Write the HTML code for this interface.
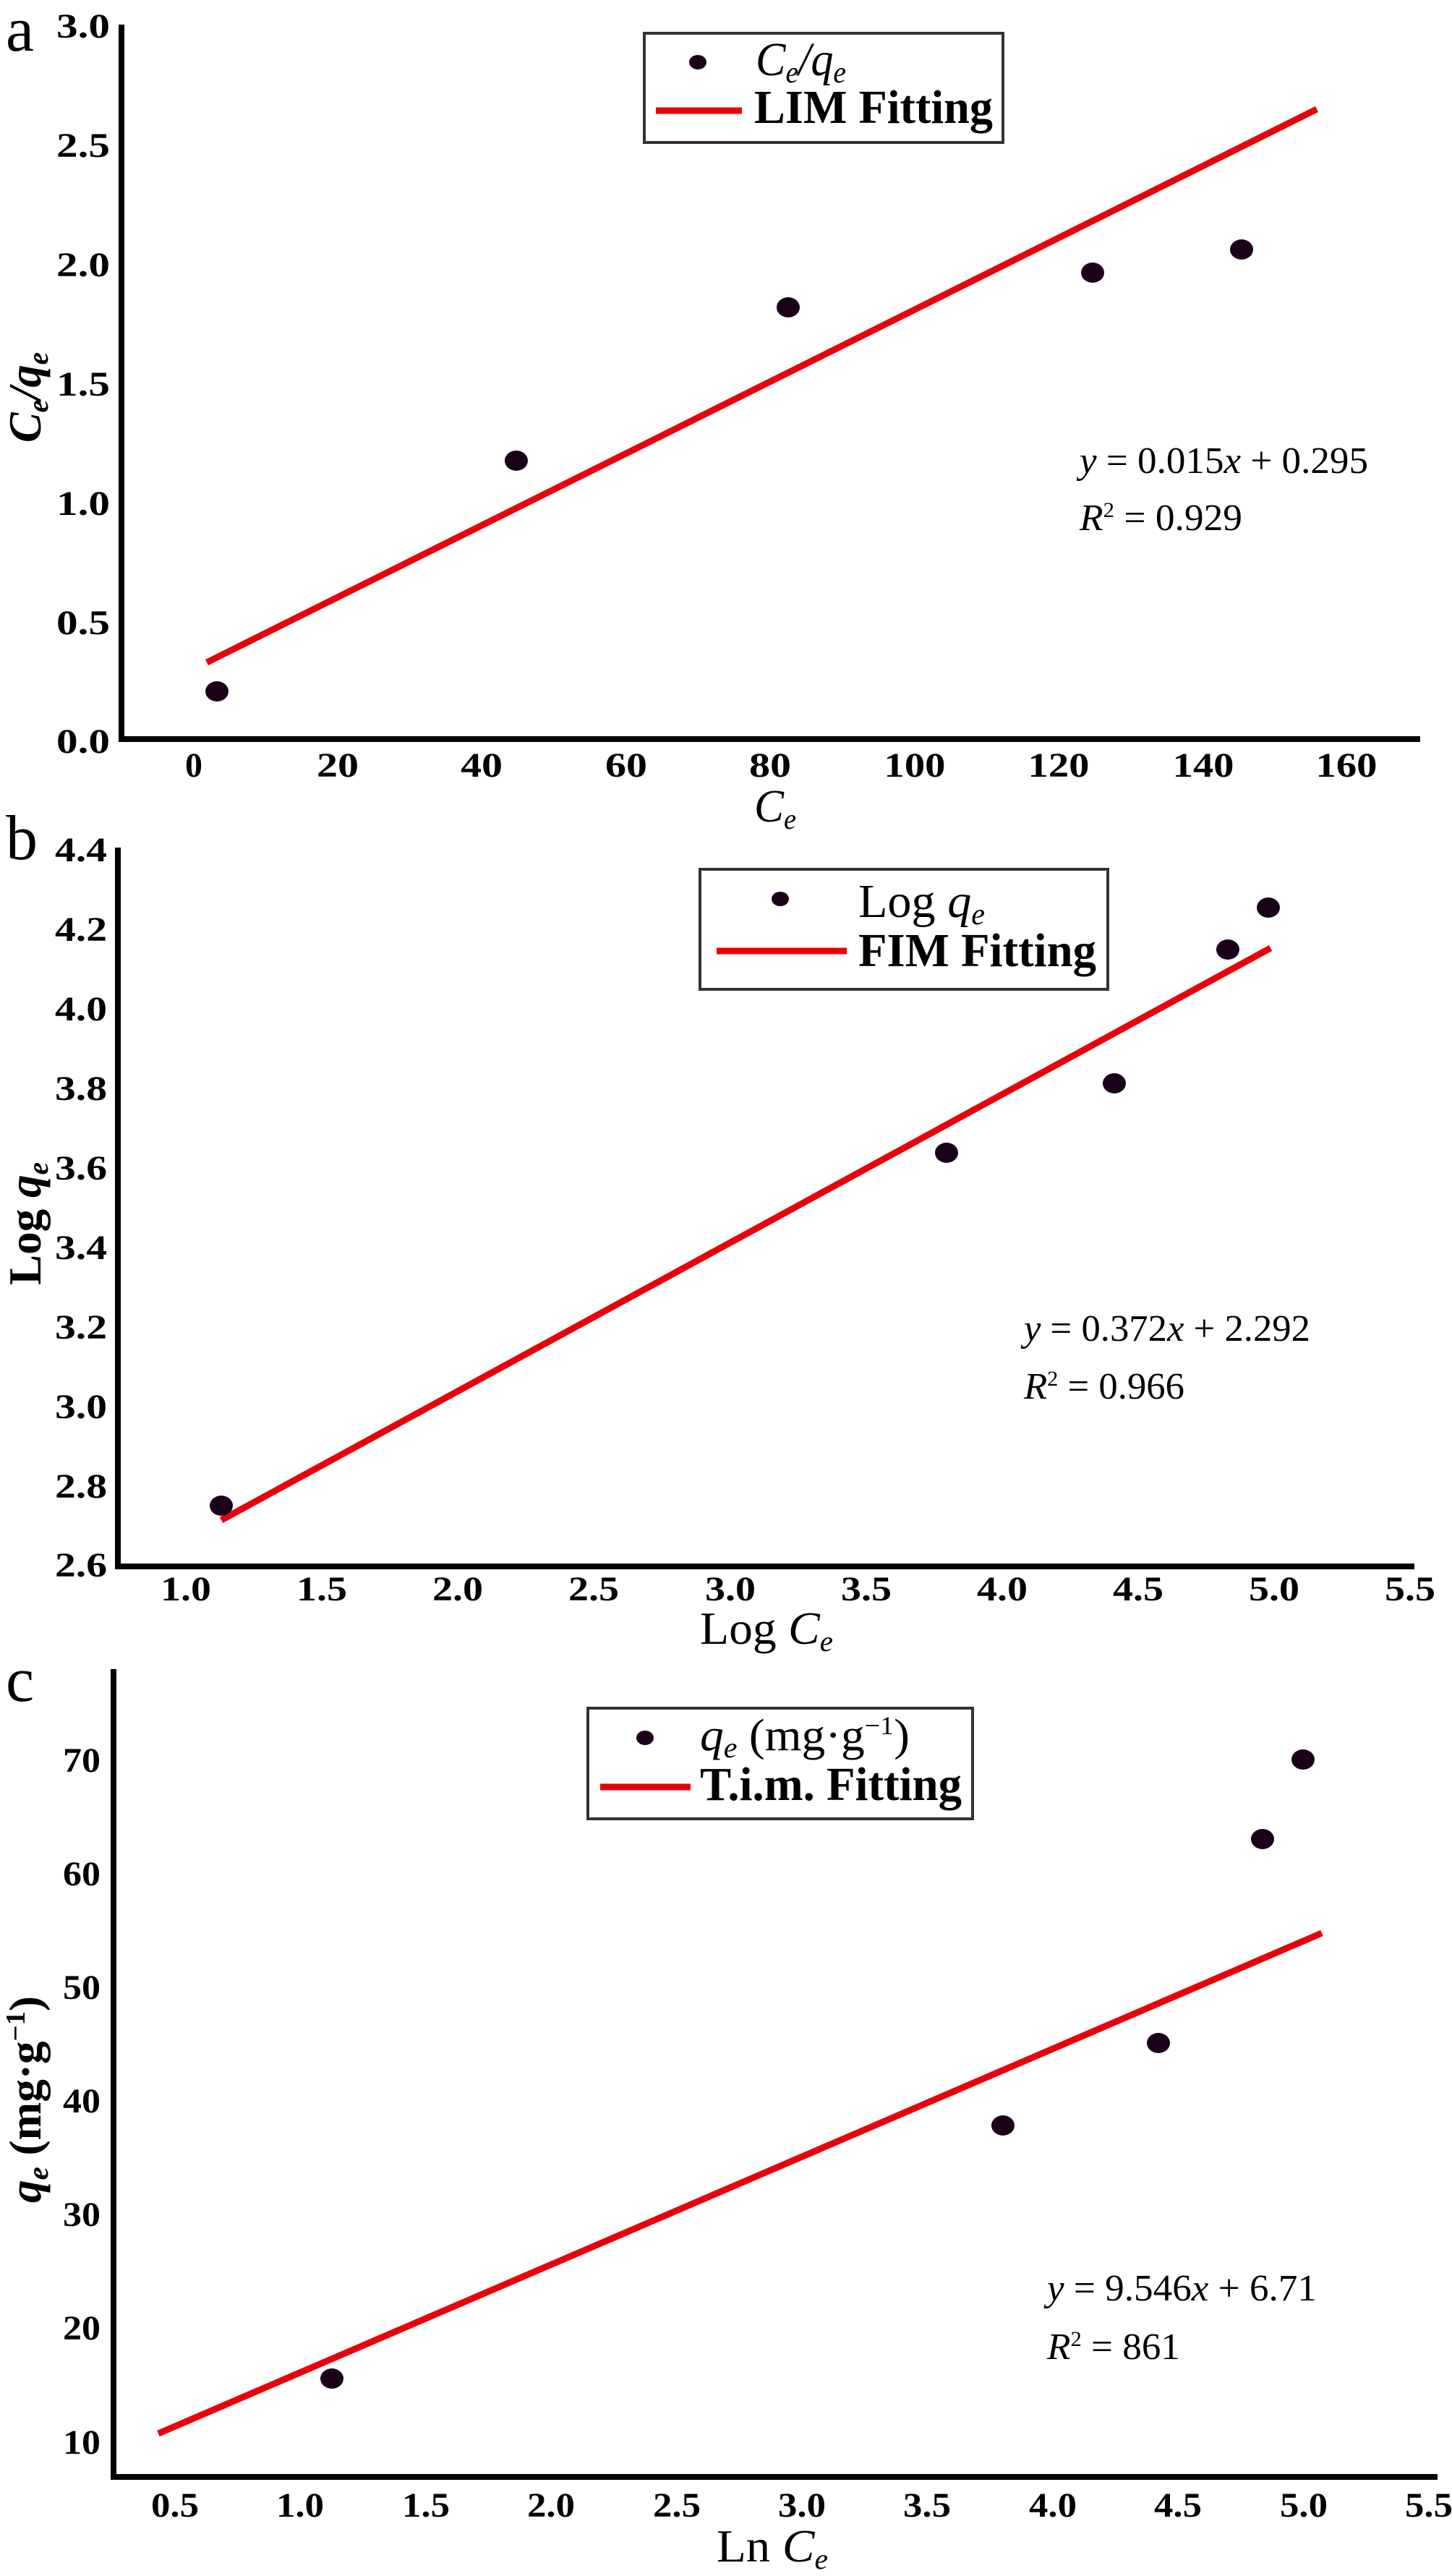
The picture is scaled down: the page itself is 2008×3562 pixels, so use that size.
<!DOCTYPE html>
<html><head><meta charset="utf-8"><style>
html,body{margin:0;padding:0;background:#fff}
svg{display:block}
text{font-family:"Liberation Serif",serif}
.t{font-weight:bold;font-size:48px}
</style></head><body>
<svg width="2008" height="3562" viewBox="0 0 2008 3562" xmlns="http://www.w3.org/2000/svg">
<!-- ========== Panel a ========== -->
<text x="8" y="70" font-size="88">a</text>
<line x1="168" y1="34" x2="168" y2="1024" stroke="#000" stroke-width="8"/>
<line x1="164" y1="1022" x2="1964" y2="1022" stroke="#000" stroke-width="8"/>
<g class="t" text-anchor="end">
<text x="152" y="52" textLength="74" lengthAdjust="spacingAndGlyphs">3.0</text>
<text x="152" y="217" textLength="74" lengthAdjust="spacingAndGlyphs">2.5</text>
<text x="152" y="382" textLength="74" lengthAdjust="spacingAndGlyphs">2.0</text>
<text x="152" y="547" textLength="74" lengthAdjust="spacingAndGlyphs">1.5</text>
<text x="152" y="712" textLength="74" lengthAdjust="spacingAndGlyphs">1.0</text>
<text x="152" y="877" textLength="74" lengthAdjust="spacingAndGlyphs">0.5</text>
<text x="152" y="1041" textLength="74" lengthAdjust="spacingAndGlyphs">0.0</text>
</g>
<g class="t" text-anchor="middle">
<text x="268" y="1074">0</text>
<text x="467" y="1074" textLength="58" lengthAdjust="spacingAndGlyphs">20</text>
<text x="666" y="1074" textLength="58" lengthAdjust="spacingAndGlyphs">40</text>
<text x="866" y="1074" textLength="58" lengthAdjust="spacingAndGlyphs">60</text>
<text x="1065" y="1074" textLength="58" lengthAdjust="spacingAndGlyphs">80</text>
<text x="1265" y="1074" textLength="85" lengthAdjust="spacingAndGlyphs">100</text>
<text x="1464" y="1074" textLength="85" lengthAdjust="spacingAndGlyphs">120</text>
<text x="1664" y="1074" textLength="85" lengthAdjust="spacingAndGlyphs">140</text>
<text x="1862" y="1074" textLength="85" lengthAdjust="spacingAndGlyphs">160</text>
</g>
<text x="1043" y="1136" font-size="64" font-style="italic" textLength="58" lengthAdjust="spacingAndGlyphs">C<tspan font-size="40" dy="10">e</tspan></text>
<text transform="translate(56,612) rotate(-90)" font-size="64" font-weight="bold" font-style="italic" textLength="125" lengthAdjust="spacingAndGlyphs">C<tspan font-size="40" dy="10">e</tspan><tspan dy="-10">/q</tspan><tspan font-size="40" dy="10">e</tspan></text>
<line x1="286" y1="916" x2="1821" y2="151" stroke="#e8000a" stroke-width="9"/>
<g fill="#1a0018">
<ellipse cx="300" cy="956" rx="16" ry="14"/>
<ellipse cx="714" cy="637" rx="16" ry="14"/>
<ellipse cx="1090" cy="425" rx="16" ry="14"/>
<ellipse cx="1511" cy="377" rx="16" ry="14"/>
<ellipse cx="1717" cy="345" rx="16" ry="14"/>
</g>
<rect x="891" y="46" width="496" height="151" fill="#fff" stroke="#333" stroke-width="4"/>
<ellipse cx="965" cy="86" rx="12" ry="10" fill="#1a0018"/>
<text x="1045" y="104" font-size="66" font-style="italic" textLength="125" lengthAdjust="spacingAndGlyphs">C<tspan font-size="42" dy="10">e</tspan><tspan dy="-10">/q</tspan><tspan font-size="42" dy="10">e</tspan></text>
<line x1="907" y1="153" x2="1026" y2="153" stroke="#e8000a" stroke-width="9"/>
<text x="1043" y="170" font-size="66" font-weight="bold" textLength="330" lengthAdjust="spacingAndGlyphs">LIM Fitting</text>
<text x="1493" y="654" font-size="52" textLength="399" lengthAdjust="spacingAndGlyphs"><tspan font-style="italic">y</tspan> = 0.015<tspan font-style="italic">x</tspan> + 0.295</text>
<text x="1493" y="733" font-size="52" textLength="225" lengthAdjust="spacingAndGlyphs"><tspan font-style="italic">R</tspan><tspan font-size="30" dy="-18">2</tspan><tspan dy="18"> = 0.929</tspan></text>

<!-- ========== Panel b ========== -->
<text x="8" y="1188" font-size="88">b</text>
<line x1="163" y1="1172" x2="163" y2="2168" stroke="#000" stroke-width="8"/>
<line x1="159" y1="2166" x2="1956" y2="2166" stroke="#000" stroke-width="8"/>
<g class="t" text-anchor="end">
<text x="148" y="1191" textLength="72" lengthAdjust="spacingAndGlyphs">4.4</text>
<text x="148" y="1301" textLength="72" lengthAdjust="spacingAndGlyphs">4.2</text>
<text x="148" y="1411" textLength="72" lengthAdjust="spacingAndGlyphs">4.0</text>
<text x="148" y="1521" textLength="72" lengthAdjust="spacingAndGlyphs">3.8</text>
<text x="148" y="1631" textLength="72" lengthAdjust="spacingAndGlyphs">3.6</text>
<text x="148" y="1741" textLength="72" lengthAdjust="spacingAndGlyphs">3.4</text>
<text x="148" y="1851" textLength="72" lengthAdjust="spacingAndGlyphs">3.2</text>
<text x="148" y="1961" textLength="72" lengthAdjust="spacingAndGlyphs">3.0</text>
<text x="148" y="2071" textLength="72" lengthAdjust="spacingAndGlyphs">2.8</text>
<text x="148" y="2180" textLength="72" lengthAdjust="spacingAndGlyphs">2.6</text>
</g>
<g class="t" text-anchor="middle">
<text x="257" y="2213" textLength="70" lengthAdjust="spacingAndGlyphs">1.0</text>
<text x="445" y="2213" textLength="70" lengthAdjust="spacingAndGlyphs">1.5</text>
<text x="633" y="2213" textLength="70" lengthAdjust="spacingAndGlyphs">2.0</text>
<text x="821" y="2213" textLength="70" lengthAdjust="spacingAndGlyphs">2.5</text>
<text x="1010" y="2213" textLength="70" lengthAdjust="spacingAndGlyphs">3.0</text>
<text x="1198" y="2213" textLength="70" lengthAdjust="spacingAndGlyphs">3.5</text>
<text x="1386" y="2213" textLength="70" lengthAdjust="spacingAndGlyphs">4.0</text>
<text x="1574" y="2213" textLength="70" lengthAdjust="spacingAndGlyphs">4.5</text>
<text x="1762" y="2213" textLength="70" lengthAdjust="spacingAndGlyphs">5.0</text>
<text x="1950" y="2213" textLength="70" lengthAdjust="spacingAndGlyphs">5.5</text>
</g>
<text x="968" y="2273" font-size="64" textLength="184" lengthAdjust="spacingAndGlyphs">Log <tspan font-style="italic">C</tspan><tspan font-size="40" font-style="italic" dy="10">e</tspan></text>
<text transform="translate(56,1777) rotate(-90)" font-size="64" font-weight="bold" textLength="170" lengthAdjust="spacingAndGlyphs">Log <tspan font-style="italic">q</tspan><tspan font-size="40" font-style="italic" dy="10">e</tspan></text>
<line x1="306" y1="2102" x2="1757" y2="1311" stroke="#e8000a" stroke-width="9"/>
<g fill="#1a0018">
<ellipse cx="306" cy="2082" rx="16" ry="14"/>
<ellipse cx="1309" cy="1594" rx="16" ry="14"/>
<ellipse cx="1541" cy="1498" rx="16" ry="14"/>
<ellipse cx="1698" cy="1313" rx="16" ry="14"/>
<ellipse cx="1754" cy="1255" rx="16" ry="14"/>
</g>
<rect x="968" y="1202" width="564" height="166" fill="#fff" stroke="#333" stroke-width="4"/>
<ellipse cx="1079" cy="1243" rx="12" ry="10" fill="#1a0018"/>
<text x="1187" y="1268" font-size="66" textLength="175" lengthAdjust="spacingAndGlyphs">Log <tspan font-style="italic">q</tspan><tspan font-size="42" font-style="italic" dy="10">e</tspan></text>
<line x1="991" y1="1315" x2="1171" y2="1315" stroke="#e8000a" stroke-width="9"/>
<text x="1187" y="1336" font-size="66" font-weight="bold" textLength="329" lengthAdjust="spacingAndGlyphs">FIM Fitting</text>
<text x="1416" y="1854" font-size="52" textLength="396" lengthAdjust="spacingAndGlyphs"><tspan font-style="italic">y</tspan> = 0.372<tspan font-style="italic">x</tspan> + 2.292</text>
<text x="1416" y="1934" font-size="52" textLength="222" lengthAdjust="spacingAndGlyphs"><tspan font-style="italic">R</tspan><tspan font-size="30" dy="-18">2</tspan><tspan dy="18"> = 0.966</tspan></text>

<!-- ========== Panel c ========== -->
<text x="8" y="2352" font-size="88">c</text>
<line x1="157" y1="2308" x2="157" y2="3428" stroke="#000" stroke-width="8"/>
<line x1="153" y1="3425" x2="1988" y2="3425" stroke="#000" stroke-width="8"/>
<g class="t" text-anchor="end">
<text x="139" y="2450" textLength="52" lengthAdjust="spacingAndGlyphs">70</text>
<text x="139" y="2607" textLength="52" lengthAdjust="spacingAndGlyphs">60</text>
<text x="139" y="2764" textLength="52" lengthAdjust="spacingAndGlyphs">50</text>
<text x="139" y="2921" textLength="52" lengthAdjust="spacingAndGlyphs">40</text>
<text x="139" y="3078" textLength="52" lengthAdjust="spacingAndGlyphs">30</text>
<text x="139" y="3235" textLength="52" lengthAdjust="spacingAndGlyphs">20</text>
<text x="139" y="3393" textLength="52" lengthAdjust="spacingAndGlyphs">10</text>
</g>
<g class="t" text-anchor="middle">
<text x="242" y="3480" textLength="66" lengthAdjust="spacingAndGlyphs">0.5</text>
<text x="415" y="3480" textLength="66" lengthAdjust="spacingAndGlyphs">1.0</text>
<text x="589" y="3480" textLength="66" lengthAdjust="spacingAndGlyphs">1.5</text>
<text x="762" y="3480" textLength="66" lengthAdjust="spacingAndGlyphs">2.0</text>
<text x="936" y="3480" textLength="66" lengthAdjust="spacingAndGlyphs">2.5</text>
<text x="1109" y="3480" textLength="66" lengthAdjust="spacingAndGlyphs">3.0</text>
<text x="1282" y="3480" textLength="66" lengthAdjust="spacingAndGlyphs">3.5</text>
<text x="1456" y="3480" textLength="66" lengthAdjust="spacingAndGlyphs">4.0</text>
<text x="1629" y="3480" textLength="66" lengthAdjust="spacingAndGlyphs">4.5</text>
<text x="1803" y="3480" textLength="66" lengthAdjust="spacingAndGlyphs">5.0</text>
<text x="1976" y="3480" textLength="66" lengthAdjust="spacingAndGlyphs">5.5</text>
</g>
<text x="991" y="3542" font-size="64" textLength="154" lengthAdjust="spacingAndGlyphs">Ln <tspan font-style="italic">C</tspan><tspan font-size="40" font-style="italic" dy="10">e</tspan></text>
<text transform="translate(56,3046) rotate(-90)" font-size="62" font-weight="bold" textLength="286" lengthAdjust="spacingAndGlyphs"><tspan font-style="italic">q</tspan><tspan font-size="40" font-style="italic" dy="10">e</tspan><tspan dy="-10"> (mg·g</tspan><tspan font-size="38" dy="-22">−1</tspan><tspan dy="22">)</tspan></text>
<line x1="219" y1="3365" x2="1828" y2="2673" stroke="#e8000a" stroke-width="9"/>
<g fill="#1a0018">
<ellipse cx="459" cy="3289" rx="16" ry="14"/>
<ellipse cx="1387" cy="2939" rx="16" ry="14"/>
<ellipse cx="1602" cy="2825" rx="16" ry="14"/>
<ellipse cx="1746" cy="2543" rx="16" ry="14"/>
<ellipse cx="1802" cy="2433" rx="16" ry="14"/>
</g>
<rect x="813" y="2362" width="532" height="153" fill="#fff" stroke="#333" stroke-width="4"/>
<ellipse cx="892" cy="2403" rx="12" ry="10" fill="#1a0018"/>
<text x="968" y="2420" font-size="62" textLength="290" lengthAdjust="spacingAndGlyphs"><tspan font-style="italic">q</tspan><tspan font-size="40" font-style="italic" dy="10">e</tspan><tspan dy="-10"> (mg·g</tspan><tspan font-size="36" dy="-22">−1</tspan><tspan dy="22">)</tspan></text>
<line x1="830" y1="2471" x2="955" y2="2471" stroke="#e8000a" stroke-width="9"/>
<text x="968" y="2489" font-size="66" font-weight="bold" textLength="362" lengthAdjust="spacingAndGlyphs">T.i.m. Fitting</text>
<text x="1448" y="3181" font-size="52" textLength="373" lengthAdjust="spacingAndGlyphs"><tspan font-style="italic">y</tspan> = 9.546<tspan font-style="italic">x</tspan> + 6.71</text>
<text x="1448" y="3262" font-size="52" textLength="184" lengthAdjust="spacingAndGlyphs"><tspan font-style="italic">R</tspan><tspan font-size="30" dy="-18">2</tspan><tspan dy="18"> = 861</tspan></text>
</svg>
</body></html>
